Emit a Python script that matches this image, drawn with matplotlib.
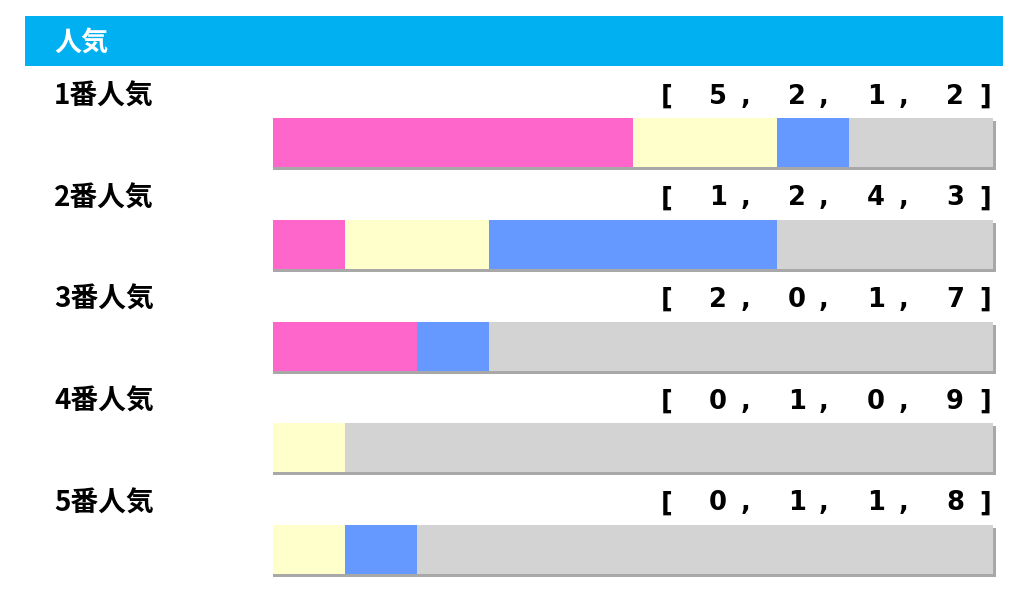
import matplotlib
matplotlib.use("Agg")
import matplotlib.pyplot as plt
from matplotlib.patches import Rectangle

title = "人気"
labels = ["1番人気", "2番人気", "3番人気", "4番人気", "5番人気"]
first = [5, 1, 2, 0, 0]
second = [2, 2, 0, 1, 1]
third = [1, 4, 1, 0, 1]
other = [2, 3, 7, 9, 8]
colors = ["#FF66CC", "#FFFFCC", "#6699FF", "#D3D3D3"]

plt.rcParams['font.family'] = ['Noto Sans CJK JP', 'DejaVu Sans']

fig = plt.figure(figsize=(10.24, 5.91), dpi=100)
ax = fig.add_axes([0, 0, 1, 1])
ax.set_xlim(0, 1024)
ax.set_ylim(591, 0)
ax.axis("off")

# header
ax.add_patch(Rectangle((25, 16), 978, 50, color="#00B0F0", lw=0))
ax.text(54, 43, title, color="white", fontsize=19.5, fontweight="bold", va="center", ha="left")

x0, unit = 273, 72
bar_h = 49
series = [first, second, third, other]
for i, lab in enumerate(labels):
    ly = 96.5 + i * 101.75
    top = 118 + i * 101.75
    ax.text(54, ly, lab, fontsize=20, fontweight="bold", va="center", ha="left")
    total = sum(s[i] for s in series)
    # shadow
    ax.add_patch(Rectangle((x0, top + 3), total * unit + 3, bar_h, color="#A8A8A8", lw=0))
    left = 0
    for s, c in zip(series, colors):
        v = s[i]
        if v:
            ax.barh(top + bar_h / 2, v * unit, left=x0 + left * unit, height=bar_h, color=c, lw=0)
        left += v
    # bracket text
    fk = dict(fontsize=18.5, fontweight="bold", va="center", ha="center", family="DejaVu Sans")
    ax.text(667, ly, "[", **fk)
    for k, s in enumerate(series):
        xn = 718 + k * 79
        ax.text(xn, ly, str(s[i]), **fk)
        if k < 3:
            ax.text(xn + 27, ly, ",", **fk)
    ax.text(985, ly, "]", **fk)

fig.savefig("out.png", dpi=100)
